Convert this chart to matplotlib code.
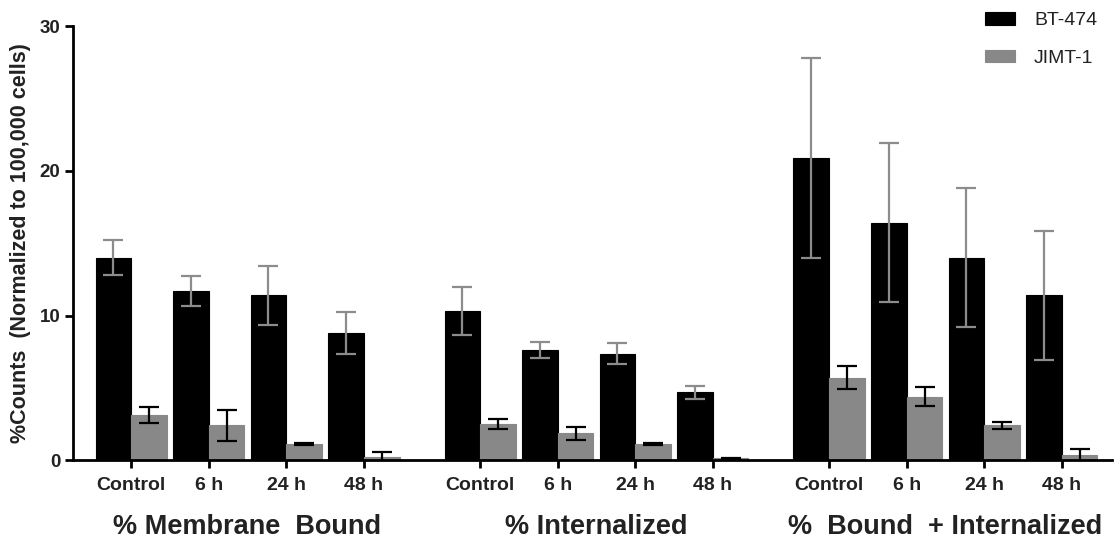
import numpy as np
import matplotlib.pyplot as plt

plt.rcParams['font.family'] = ['Liberation Sans', 'DejaVu Sans']

# data
timepoints = ['Control', '6 h', '24 h', '48 h']
groups = ['% Membrane  Bound', '% Internalized', '%  Bound  + Internalized']

bt474 = [14.0, 11.7, 11.4, 8.8,
         10.3, 7.6, 7.35, 4.7,
         20.9, 16.4, 14.0, 11.4]
bt474_err = [1.2, 1.05, 2.05, 1.45,
             1.65, 0.56, 0.73, 0.45,
             6.9, 5.5, 4.8, 4.45]
jimt1 = [3.1, 2.4, 1.15, 0.25,
         2.5, 1.85, 1.1, 0.12,
         5.7, 4.4, 2.4, 0.38]
jimt1_err = [0.55, 1.05, 0.07, 0.3,
             0.32, 0.48, 0.07, 0.05,
             0.8, 0.68, 0.22, 0.4]

# category positions: 4 per group, 1.5 slot gap between groups
pos = np.concatenate([np.arange(4) + 4.5 * g for g in range(3)])
w = 0.46
txt = '#222222'

fig = plt.figure(figsize=(11.15, 5.44), dpi=100)
ax = fig.add_axes([0.0655, 0.154, 0.932, 0.798])

ax.bar(pos - w / 2, bt474, w, color='black', edgecolor='black', linewidth=0.8,
       yerr=bt474_err, ecolor='#8c8c8c',
       error_kw=dict(elinewidth=1.6, capsize=7, capthick=1.6), label='BT-474')
ax.bar(pos + w / 2, jimt1, w, color='#888888', edgecolor='#888888', linewidth=0.8,
       yerr=jimt1_err, ecolor='black',
       error_kw=dict(elinewidth=1.6, capsize=7, capthick=1.6), label='JIMT-1')

ax.set_xlim(-0.75, 12.65)
ax.set_ylim(0, 30)
ax.set_yticks([0, 10, 20, 30])
ax.set_xticks(pos)
ax.set_xticklabels(timepoints * 3, fontsize=14, fontweight='bold', color=txt)
for lab in ax.get_yticklabels():
    lab.set_fontweight('bold')
    lab.set_fontsize(13.5)
    lab.set_color(txt)

ax.spines['top'].set_visible(False)
ax.spines['right'].set_visible(False)
ax.spines['left'].set_linewidth(2)
ax.spines['bottom'].set_linewidth(2)
ax.tick_params(axis='both', width=2, length=6, direction='out')
ax.tick_params(axis='x', pad=6)
ax.tick_params(axis='y', pad=3)

ax.set_ylabel('%Counts  (Normalized to 100,000 cells)', fontsize=15.5,
              fontweight='bold', color=txt, labelpad=6)

# group titles under the time labels
for g, name in enumerate(groups):
    ax.text(pos[4 * g:4 * g + 4].mean(), -0.153, name, transform=ax.get_xaxis_transform(),
            ha='center', va='center', fontsize=19.5, fontweight='bold', color=txt)

leg = ax.legend(loc='upper left', bbox_to_anchor=(0.876, 0.992), bbox_transform=fig.transFigure,
                borderaxespad=0, frameon=False, fontsize=14, handlelength=1.55,
                handleheight=0.62, handletextpad=1.0, labelspacing=1.05)
for t in leg.get_texts():
    t.set_color(txt)

fig.savefig('out.png', dpi=100)
